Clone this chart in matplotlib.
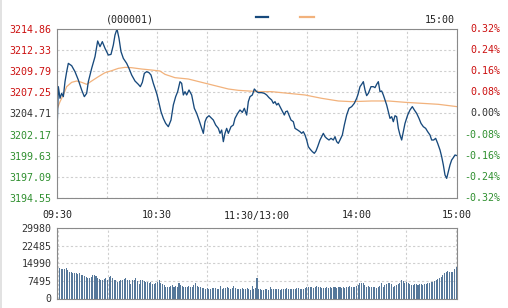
import matplotlib
matplotlib.use('Agg')
import matplotlib.pyplot as plt
from matplotlib.lines import Line2D
from matplotlib.patches import Rectangle
from matplotlib.transforms import blended_transform_factory

plt.rcParams['font.family'] = ['DejaVu Sans Mono']
plt.rcParams['font.size'] = 7.2

# price line, minutes since 09:30 (lunch break removed)
minutes = [0, 0.8, 1.8, 2.8, 3.8, 4.8, 5.8, 6.8, 8.8, 10.8, 12.8, 14.8, 16.4, 17.8, 18.8,
           20.8, 22.8, 24.4, 25.8, 27.2, 28.8, 30.8, 32.4, 33.8, 34.8, 36.0, 37.2, 38.4,
           39.8, 41.8, 43.2, 44.8, 46.8, 48.8, 50.0, 51.2, 52.4, 53.8, 55.2, 56.4, 57.8,
           59.8, 60.8, 62.4, 63.8, 65.2, 66.8, 68.4, 69.8, 71.2, 72.4, 73.8, 74.8, 75.8,
           76.8, 77.8, 79.2, 80.8, 82.4, 83.8, 85.2, 86.8, 87.8, 88.8, 89.8, 91.2, 92.4,
           93.8, 95.2, 96.8, 97.8, 98.8, 99.8, 100.8, 101.8, 102.8, 104.4, 105.8, 106.8,
           108.4, 109.8, 111.2, 112.4, 113.8, 114.8, 115.8, 117.2, 118.4, 119.8,
           120.8, 122.8, 124.4, 125.8, 127.2, 128.8, 129.8, 130.8, 131.8, 132.8, 133.8,
           135.2, 136.4, 137.2, 138.2, 139.2, 140.4, 141.8, 142.8, 144.4, 145.8, 146.8,
           147.8, 148.8, 149.8, 150.8, 151.8, 153.2, 154.4, 155.4, 156.4, 157.8, 158.8,
           159.8, 160.8, 161.8, 163.2, 164.4, 165.8, 166.8, 167.8, 168.8, 169.8, 171.2,
           172.4, 173.8, 175.2, 176.8, 178.4, 179.8, 180.6, 181.8, 182.8, 183.8, 184.8,
           185.8, 186.8, 188.4, 189.8, 190.8, 191.8, 192.8, 193.8, 194.8, 195.8, 196.8,
           197.8, 198.8, 199.8, 200.8, 201.8, 202.8, 203.8, 204.8, 205.8, 206.8, 207.8,
           208.8, 210.4, 211.8, 213.2, 214.4, 215.8, 217.2, 218.4, 219.8, 221.2, 222.4,
           223.8, 224.8, 226.0, 227.2, 228.4, 229.8, 230.8, 231.8, 232.8, 233.8, 234.8,
           235.8, 236.8, 237.8, 238.8, 240.0]
price = [3202.32, 3207.93, 3206.53, 3207.13, 3206.73, 3208.53, 3209.73, 3210.73, 3210.45,
         3209.73, 3208.73, 3207.53, 3206.73, 3207.13, 3208.53, 3210.13, 3211.53, 3213.42,
         3212.74, 3213.34, 3212.54, 3211.73, 3211.81, 3212.94, 3214.14, 3214.86, 3213.74,
         3212.14, 3211.33, 3210.73, 3210.13, 3209.33, 3208.61, 3208.21, 3207.93, 3208.45,
         3209.53, 3209.73, 3209.61, 3209.33, 3208.33,
         3207.13, 3206.33, 3204.92, 3204.12, 3203.52, 3203.12, 3203.92, 3205.73, 3206.73,
         3207.33, 3208.53, 3208.33, 3206.93, 3207.33, 3206.93, 3207.53, 3206.93, 3205.33,
         3204.72, 3203.92, 3202.92, 3202.32, 3203.72, 3204.20, 3204.44, 3204.20, 3203.92,
         3203.32, 3202.92, 3202.32, 3202.72, 3201.32, 3202.32, 3202.92, 3202.32, 3203.12,
         3203.32, 3204.12, 3204.72, 3205.13, 3204.84, 3205.33, 3204.52, 3206.13, 3206.73,
         3206.93, 3207.65, 3207.33,
         3207.21, 3207.21, 3207.13, 3206.93, 3206.61, 3206.33, 3205.93, 3206.13, 3205.73,
         3205.93, 3205.53, 3205.00, 3204.52, 3204.92, 3205.00, 3204.52, 3203.92, 3203.72,
         3202.92, 3202.72, 3202.52, 3202.32, 3202.52, 3202.12, 3201.52, 3200.72, 3200.44,
         3200.12, 3199.92, 3200.20, 3200.72, 3201.52, 3201.92, 3202.32, 3201.92, 3201.72,
         3201.52, 3201.72, 3201.52, 3201.92, 3201.32, 3201.12, 3201.52, 3202.12, 3203.32,
         3204.52, 3205.33, 3205.53, 3205.93, 3206.53, 3207.00, 3207.93, 3208.21, 3208.53,
         3207.53, 3206.85, 3207.13, 3207.93, 3207.93, 3207.81, 3208.21, 3208.53, 3207.33,
         3207.41, 3206.93, 3206.33, 3205.73, 3204.92, 3204.12, 3204.32, 3203.72, 3204.44,
         3204.32, 3202.92, 3202.12, 3201.52, 3202.52, 3203.52, 3204.52, 3205.13, 3205.53,
         3205.13, 3204.72, 3204.12, 3203.52, 3203.12, 3202.92, 3202.52, 3202.12, 3201.52,
         3201.52, 3201.72, 3201.12, 3200.32, 3199.52, 3198.52, 3197.31, 3196.91, 3197.71,
         3198.52, 3199.12, 3199.40, 3199.72, 3199.64]

# average price line
avg_minutes = [0.4, 1.8, 3.8, 5.8, 8.8, 11.8, 14.8, 17.8, 20.8, 24.8, 28.8, 32.8, 36.8, 40.8,
               44.8, 50.8, 56.8, 61.8, 64.8, 70.8, 78.8, 86.8, 94.8, 102.8, 108.8, 114.8,
               121.8, 128.8, 138.8, 148.8, 158.8, 168.8, 176.8, 188.8, 198.8, 208.8, 218.8,
               228.8, 240.0]
avg_price = [3205.40, 3206.13, 3206.93, 3207.93, 3208.45, 3208.61, 3208.45, 3208.21, 3208.61,
             3209.13, 3209.61, 3209.85, 3210.13, 3210.25, 3210.21, 3210.05, 3209.93, 3209.81,
             3209.41, 3209.01, 3208.85, 3208.45, 3208.05, 3207.65, 3207.49, 3207.41, 3207.33,
             3207.33, 3207.13, 3206.93, 3206.53, 3206.21, 3206.13, 3206.21, 3206.21, 3206.05,
             3205.93, 3205.81, 3205.53]

# volume per minute (241 bars)
volume = [
    14200, 12800, 12600, 12500, 12400, 12900, 12000, 11400, 11100, 10800,
    10700, 10700, 10600, 10700, 10000, 10100, 9700, 9300, 8900, 8600,
    9300, 9900, 10200, 9400, 8700, 8300, 7900, 7900, 8300, 8700,
    7900, 9300, 9600, 8700, 7700, 7900, 7200, 7600, 7900, 8000,
    8300, 8900, 7900, 7800, 6300, 7900, 7800, 8600, 7600, 6300,
    7900, 8000, 7600, 7200, 7100, 6800, 6900, 6200, 6300, 6800,
    6900, 7900, 6800, 6300, 5800, 5000, 5100, 5000, 5400, 5800,
    5000, 5400, 5000, 6800, 5800, 5400, 5000, 4700, 5000, 5400,
    5000, 4700, 5800, 6800, 5400, 5000, 4700, 4300, 4400, 4000,
    4300, 4000, 4100, 4300, 4300, 4400, 4000, 4000, 5400, 4000,
    4300, 4300, 4700, 4300, 4000, 4300, 5400, 4300, 4100, 4000,
    4000, 4300, 4000, 4000, 4300, 4000, 3700, 5400, 4000, 4300,
    8900, 4100, 3900, 3800, 3800, 3900, 4100, 3800, 4700, 4000,
    4000, 3900, 4100, 4100, 3800, 3900, 4100, 4000, 4300, 4000,
    3900, 4100, 4100, 4000, 4300, 4400, 4200, 4100, 4000, 4300,
    4700, 4900, 5100, 4800, 4400, 4900, 5400, 4800, 4700, 4500,
    4300, 4400, 4700, 4500, 4700, 4400, 4800, 4700, 4400, 4700,
    4800, 4500, 4700, 4600, 5000, 5100, 5400, 4700, 5000, 5000,
    5200, 5600, 6400, 6800, 6400, 5800, 5000, 5400, 5000, 4800,
    4900, 5000, 4600, 4800, 5400, 6400, 5000, 5800, 6100, 6800,
    6400, 6200, 5000, 5500, 5900, 6300, 6800, 7700, 7300, 6600,
    6900, 6400, 6200, 5900, 5600, 6300, 6300, 5900, 6300, 6000,
    5700, 6300, 6200, 6400, 6600, 6900, 6900, 7400, 7700, 8300,
    8700, 9300, 10000, 10700, 11400, 11800, 11200, 11400, 11300, 12700,
    13600]

price_ticks = [3194.55, 3197.09, 3199.63, 3202.17, 3204.71, 3207.25, 3209.79, 3212.33, 3214.86]
pct_labels = ['-0.32%', '-0.24%', '-0.16%', '-0.08%', '0.00%', '0.08%', '0.16%', '0.24%', '0.32%']
vol_ticks = [0, 7495, 14990, 22485, 29980]
time_ticks = [0, 30, 60, 90, 120, 150, 180, 210, 240]
time_labels = ['09:30', '', '10:30', '', '11:30/13:00', '', '14:00', '', '15:00']

red = '#cc1010'
green = '#2f8f2f'
dark = '#333333'
tick_colors = [green] * 4 + [dark] + [red] * 4
grid_kw = dict(color='#cfcfcf', linestyle=(0, (2, 2)), linewidth=0.8)

fig = plt.figure(figsize=(5.08, 3.08), dpi=100)
fig.add_artist(Rectangle((0, 0), 2 / 508, 1, transform=fig.transFigure, color='#e2e2e2', lw=0))

# main price chart
ax = fig.add_axes([57 / 508, 1 - 198 / 308, 400 / 508, 169 / 308])
ax.plot(avg_minutes, avg_price, color='#f2b27c', lw=0.9)
ax.plot(minutes, price, color='#17497c', lw=0.95)
ax.set_xlim(0, 240)
ax.set_ylim(price_ticks[0], price_ticks[-1])
ax.set_yticks(price_ticks)
ax.set_yticklabels(['%.2f' % v for v in price_ticks])
for lab, c in zip(ax.get_yticklabels(), tick_colors):
    lab.set_color(c)
ax.set_xticks(time_ticks)
ax.set_xticklabels(time_labels)
ax.tick_params(length=0, pad=4)
ax.tick_params(axis='x', pad=9, colors='#222222')
ax.grid(True, **grid_kw)
for s in ax.spines.values():
    s.set_color('#8a8a8a')

trans = blended_transform_factory(ax.transAxes, ax.transData)
for v, lab, c in zip(price_ticks, pct_labels, tick_colors):
    ax.text(443 / 400, v, lab, transform=trans, ha='right', va='center', color=c)

# header
fig.text(130 / 508, 1 - 20 / 308, '(000001)', ha='center', va='center', color='#222222')
fig.text(455 / 508, 1 - 20 / 308, '15:00', ha='right', va='center', color='#222222')
fig.add_artist(Line2D([256 / 508, 268 / 508], [1 - 17 / 308] * 2, color='#17497c', lw=1.6,
                      transform=fig.transFigure))
fig.add_artist(Line2D([300 / 508, 314 / 508], [1 - 17 / 308] * 2, color='#f2b27c', lw=1.6,
                      transform=fig.transFigure))

# volume chart
vx = fig.add_axes([57 / 508, 1 - 298.5 / 308, 400 / 508, 70.5 / 308])
vx.bar(range(len(volume)), volume, width=0.62, color='#56789a', linewidth=0)
vx.set_xlim(-0.5, 240.5)
vx.set_ylim(0, vol_ticks[-1])
vx.set_yticks(vol_ticks)
vx.set_yticklabels([str(v) for v in vol_ticks])
vx.set_xticks([t for t in time_ticks])
vx.set_xticklabels([])
vx.tick_params(length=0, pad=4, colors='#333333')
vx.grid(True, **grid_kw)
vx.set_axisbelow(True)
for s in vx.spines.values():
    s.set_color('#8a8a8a')

plt.savefig('out.png', dpi=100)
